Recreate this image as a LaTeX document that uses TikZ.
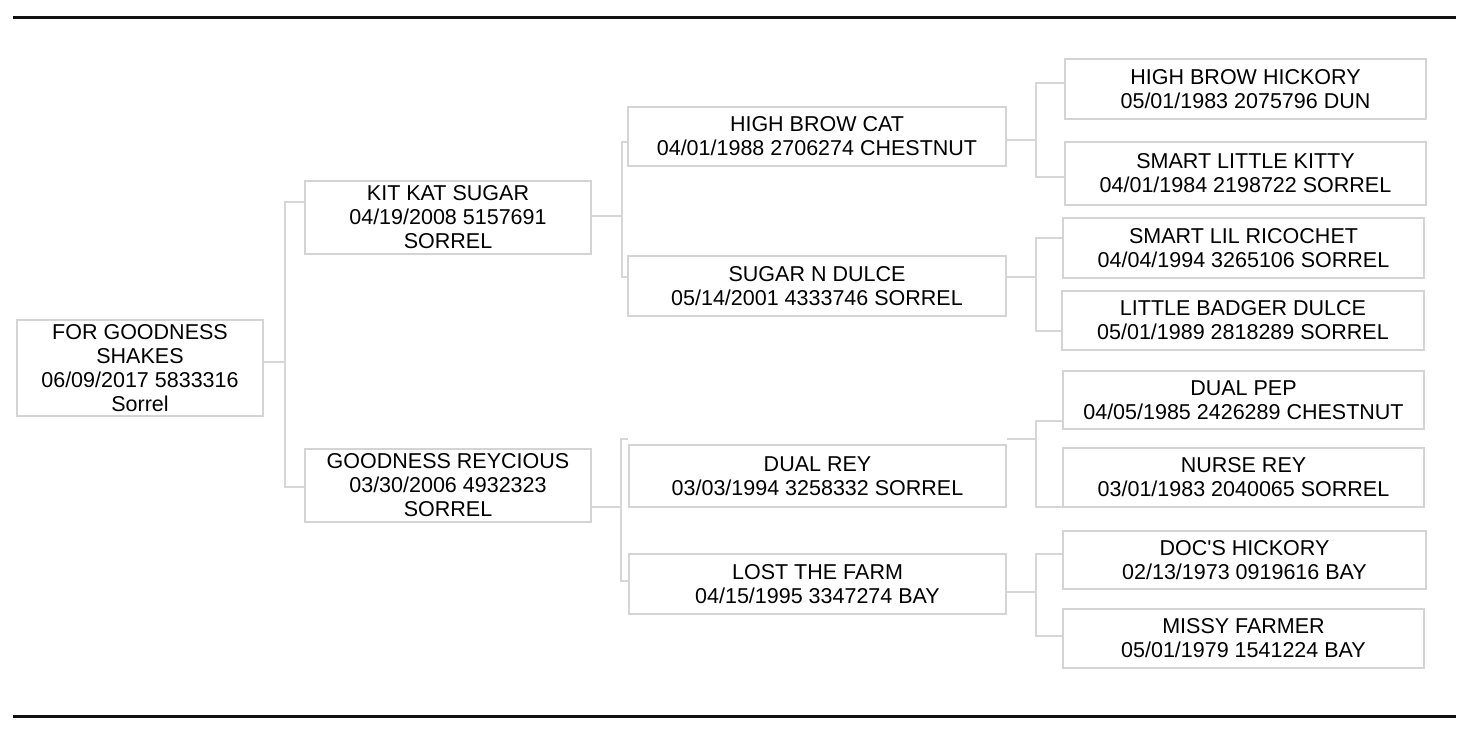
\documentclass[tikz,border=0pt]{standalone}
\usepackage{fontspec}
\setmainfont{Liberation Sans}
\definecolor{boxgray}{HTML}{D4D4D4}
\definecolor{linegray}{HTML}{D6D6D6}
\definecolor{rulecol}{HTML}{101010}
\newcommand{\bxfont}{\fontsize{21.5}{24}\selectfont}
\tikzset{
  pedbox/.style={draw=boxgray, line width=2.5pt, inner sep=0pt, align=center, font=\bxfont, text=black},
  conn/.style={draw=linegray, line width=1.2pt},
  hrule/.style={draw=rulecol, line width=3pt}
}
\begin{document}
\begin{tikzpicture}[x=1pt,y=-1pt]
\useasboundingbox (0,0) rectangle (1470,738);
% rules
\coordinate (tl) at (13,18); \coordinate (tr) at (1456,18);
\coordinate (bl) at (13,716); \coordinate (br) at (1456,716);
\draw[hrule] (tl) -- (tr);
\draw[hrule] (bl) -- (br);
% boxes
\node[pedbox, minimum width=246pt, minimum height=96pt] (root) at (140,368) {FOR GOODNESS\\SHAKES\\06/09/2017 5833316\\Sorrel};
\node[pedbox, minimum width=286pt, minimum height=73pt] (kks) at (448,217.5) {KIT KAT SUGAR\\04/19/2008 5157691\\SORREL};
\node[pedbox, minimum width=286pt, minimum height=73pt] (gr) at (448,485.5) {GOODNESS REYCIOUS\\03/30/2006 4932323\\SORREL};
\node[pedbox, minimum width=378pt, minimum height=59pt] (hbc) at (817,136.5) {HIGH BROW CAT\\04/01/1988 2706274 CHESTNUT};
\node[pedbox, minimum width=378pt, minimum height=60pt] (snd) at (817,286) {SUGAR N DULCE\\05/14/2001 4333746 SORREL};
\node[pedbox, minimum width=377pt, minimum height=62pt] (dr) at (817.5,476) {DUAL REY\\03/03/1994 3258332 SORREL};
\node[pedbox, minimum width=377pt, minimum height=60pt] (ltf) at (817.5,584) {LOST THE FARM\\04/15/1995 3347274 BAY};
\node[pedbox, minimum width=361pt, minimum height=60pt] (hbh) at (1245.5,89) {HIGH BROW HICKORY\\05/01/1983 2075796 DUN};
\node[pedbox, minimum width=361pt, minimum height=63pt] (slk) at (1245.5,173.5) {SMART LITTLE KITTY\\04/01/1984 2198722 SORREL};
\node[pedbox, minimum width=361pt, minimum height=60pt] (slr) at (1243.5,248) {SMART LIL RICOCHET\\04/04/1994 3265106 SORREL};
\node[pedbox, minimum width=362pt, minimum height=59pt] (lbd) at (1243,320.5) {LITTLE BADGER DULCE\\05/01/1989 2818289 SORREL};
\node[pedbox, minimum width=361pt, minimum height=58pt] (dp) at (1243.5,400) {DUAL PEP\\04/05/1985 2426289 CHESTNUT};
\node[pedbox, minimum width=361pt, minimum height=59pt] (nr) at (1243.5,477.5) {NURSE REY\\03/01/1983 2040065 SORREL};
\node[pedbox, minimum width=363pt, minimum height=58pt] (dh) at (1244.5,560) {DOC\textquotesingle S HICKORY\\02/13/1973 0919616 BAY};
\node[pedbox, minimum width=361pt, minimum height=59pt] (mf) at (1243.5,638.5) {MISSY FARMER\\05/01/1979 1541224 BAY};
% connectors: root -> kks, gr
\coordinate (j0) at (285,362); \coordinate (a1) at (285,202); \coordinate (a2) at (285,487);
\draw[conn] (root.east |- j0) -- (j0);
\draw[conn] (kks.west |- a1) -- (a1) -- (a2) -- (gr.west |- a2);
% kks -> hbc, snd
\coordinate (j1) at (622,216); \coordinate (b1) at (622,142); \coordinate (b2) at (622,277);
\draw[conn] (kks.east |- j1) -- (j1);
\draw[conn] (hbc.west |- b1) -- (b1) -- (b2) -- (snd.west |- b2);
% gr -> dr, ltf
\coordinate (j2) at (621,507); \coordinate (c1) at (621,439); \coordinate (c2) at (621,581);
\draw[conn] (gr.east |- j2) -- (j2);
\draw[conn] (dr.west |- c1) -- (c1) -- (c2) -- (ltf.west |- c2);
% hbc -> hbh, slk
\coordinate (j3) at (1036,140); \coordinate (d1) at (1036,83); \coordinate (d2) at (1036,177);
\draw[conn] (hbc.east |- j3) -- (j3);
\draw[conn] (hbh.west |- d1) -- (d1) -- (d2) -- (slk.west |- d2);
% snd -> slr, lbd
\coordinate (j4) at (1036,277); \coordinate (e1) at (1036,238); \coordinate (e2) at (1036,331);
\draw[conn] (snd.east |- j4) -- (j4);
\draw[conn] (slr.west |- e1) -- (e1) -- (e2) -- (lbd.west |- e2);
% dr -> dp, nr
\coordinate (j5) at (1036,439); \coordinate (f1) at (1036,421); \coordinate (f2) at (1036,507);
\draw[conn] (dr.east |- j5) -- (j5);
\draw[conn] (dp.west |- f1) -- (f1) -- (f2) -- (nr.west |- f2);
% ltf -> dh, mf
\coordinate (j6) at (1036,592); \coordinate (g1) at (1036,554); \coordinate (g2) at (1036,636);
\draw[conn] (ltf.east |- j6) -- (j6);
\draw[conn] (dh.west |- g1) -- (g1) -- (g2) -- (mf.west |- g2);
\end{tikzpicture}
\end{document}
